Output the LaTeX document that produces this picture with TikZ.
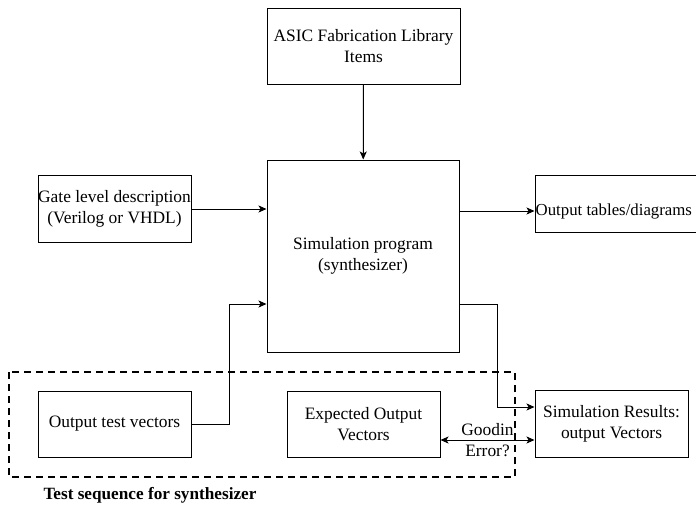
\documentclass[tikz,border=0pt]{standalone}
\usepackage{fontspec}
\setmainfont{Liberation Serif}
\usetikzlibrary{arrows.meta}

\begin{document}
\begin{tikzpicture}[x=1pt,y=-1pt,
  box/.style={draw, line width=1pt, inner sep=0pt, align=center,
    font=\fontsize{17.4}{21}\selectfont},
  conn/.style={line width=1pt, -{Stealth[length=8pt,width=7pt,inset=2pt]}},
  twoway/.style={line width=1pt, {Stealth[length=8pt,width=7pt,inset=2pt]}-{Stealth[length=8pt,width=7pt,inset=2pt]}},
  lbl/.style={inner sep=0pt, align=center, font=\fontsize{17.4}{21}\selectfont}]
\useasboundingbox (0,0) rectangle (696,504);
\clip (0,0) rectangle (696,504);
% boxes
\node[box, minimum width=193, minimum height=76] (asic) at (363.5,46) {ASIC Fabrication Library\\Items};
\node[box, minimum width=192, minimum height=192] (sim) at (363,256) {Simulation program\\(synthesizer)};
\node[box, minimum width=153, minimum height=67] (gate) at (114.5,209) {Gate level description\\(Verilog or VHDL)};
\node[box, minimum width=170, minimum height=57] (tables) at (620,203.5) {};
\node[lbl, anchor=west, font=\fontsize{16.8}{21}\selectfont] (tabtxt) at (535.5,211) {Output tables/diagrams};
\node[box, minimum width=153, minimum height=66] (tvec) at (114.5,424) {Output test vectors};
\node[box, minimum width=153, minimum height=66] (expv) at (363.5,424) {Expected Output\\Vectors};
\node[box, minimum width=153, minimum height=67] (res) at (611.5,423.5) {Simulation Results:\\output Vectors};
% test sequence group
\draw[line width=2pt, dash pattern=on 7pt off 5pt] (9,372) rectangle (515,477);
\node[lbl, font=\fontsize{17.2}{21}\selectfont\bfseries] (seq) at (150,495) {Test sequence for synthesizer};
% ports
\path (sim.west) ++(0,48) coordinate (simin);
\path (sim.east) ++(0,48) coordinate (simout);
\path (res.west) ++(0,-16.5) coordinate (resin);
\path (res.west) ++(0,16.5) coordinate (rescmp);
% connectors
\draw[conn] (asic) -- (sim);
\draw[conn] (gate.east) -- (gate.east -| sim.west);
\draw[conn] (sim.east |- tabtxt.west) -- (tables.west |- tabtxt.west);
\draw[conn] (tvec.east) -- ++(38,0) |- (simin);
\draw[conn] (simout) -- ++(38,0) |- (resin);
\draw[twoway] (expv.east |- rescmp) -- node[lbl] (okerr) {Goodin\\Error?} (rescmp);
\end{tikzpicture}
\end{document}
